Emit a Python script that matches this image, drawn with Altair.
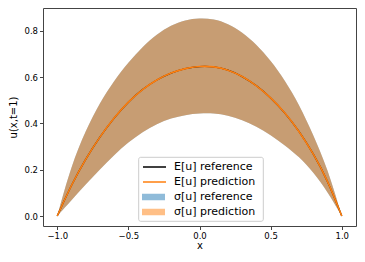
import altair as alt
import pandas as pd

# x positions
x_vals = [-1.0, -0.9, -0.8, -0.7, -0.6, -0.5, -0.4, -0.3, -0.2, -0.1,
          0.0, 0.1, 0.2, 0.3, 0.4, 0.5, 0.6, 0.7, 0.8, 0.9, 1.0]
# mean E[u]
mean_ref = [0.0, 0.136, 0.247, 0.343, 0.425, 0.494, 0.548, 0.589, 0.619, 0.638,
            0.647, 0.646, 0.632, 0.604, 0.564, 0.512, 0.447, 0.367, 0.27, 0.155, 0.0]
mean_pred = [0.0, 0.136, 0.247, 0.343, 0.425, 0.494, 0.548, 0.589, 0.619, 0.638,
             0.647, 0.646, 0.632, 0.604, 0.564, 0.512, 0.447, 0.367, 0.27, 0.155, 0.0]
# E[u] + sigma / E[u] - sigma
upper_ref = [0.0, 0.22, 0.37, 0.49, 0.585, 0.663, 0.731, 0.785, 0.824, 0.847,
             0.855, 0.851, 0.831, 0.794, 0.741, 0.672, 0.586, 0.482, 0.35, 0.205, 0.0]
lower_ref = [0.0, 0.068, 0.136, 0.202, 0.264, 0.319, 0.364, 0.398, 0.422, 0.437,
             0.443, 0.444, 0.434, 0.415, 0.387, 0.35, 0.306, 0.256, 0.19, 0.105, 0.0]
upper_pred = upper_ref
lower_pred = lower_ref

rows = []
for i, x in enumerate(x_vals):
    rows.append({"x": x, "series": "ref", "mean": mean_ref[i], "hi": upper_ref[i], "lo": lower_ref[i],
                 "line": "E[u] reference", "band": "σ[u] reference"})
    rows.append({"x": x, "series": "pred", "mean": mean_pred[i], "hi": upper_pred[i], "lo": lower_pred[i],
                 "line": "E[u] prediction", "band": "σ[u] prediction"})
df = pd.DataFrame(rows)

FONT = "DejaVu Sans"
xs = alt.Scale(domain=[-1.1, 1.1], nice=False, zero=False)
ys = alt.Scale(domain=[-0.043, 0.898], nice=False, zero=False)
xax = alt.Axis(values=[-1, -0.5, 0, 0.5, 1], format=".1f", title="x")
yax = alt.Axis(values=[0, 0.2, 0.4, 0.6, 0.8], format=".1f", title="u(x,t=1)")

band_scale = alt.Scale(domain=["σ[u] reference", "σ[u] prediction"], range=["#1f77b4", "#ff7f0e"])
line_scale = alt.Scale(domain=["E[u] reference", "E[u] prediction"], range=["#000000", "#ff7f0e"])

band_legend = alt.Legend(
    title=None, orient="none", legendX=99, legendY=182.5, padding=0,
    symbolType="M-1,-0.29H1V0.29H-1Z", symbolSize=529, symbolStrokeWidth=0,
    symbolOpacity=0.5, labelOffset=9, clipHeight=13, rowPadding=2,
    labelFont=FONT, labelFontSize=11, labelColor="black", symbolOffset=0,
)
line_legend = alt.Legend(
    title=None, orient="none", legendX=99, legendY=152.5, padding=0,
    symbolType="stroke", symbolSize=529, symbolStrokeWidth=1.5,
    labelOffset=7, clipHeight=13, rowPadding=2,
    labelFont=FONT, labelFontSize=11, labelColor="black",
)

base = alt.Chart(df)

def band(series):
    return base.transform_filter(alt.datum.series == series).mark_area(
        opacity=0.5, interpolate="basis"
    ).encode(
        x=alt.X("x:Q", scale=xs, axis=xax),
        y=alt.Y("hi:Q", scale=ys, axis=yax),
        y2="lo:Q",
        fill=alt.Fill("band:N", scale=band_scale, legend=band_legend),
    )

def line(series, width):
    return base.transform_filter(alt.datum.series == series).mark_line(
        strokeWidth=width, interpolate="basis"
    ).encode(
        x=alt.X("x:Q", scale=xs, axis=xax),
        y=alt.Y("mean:Q", scale=ys, axis=yax),
        stroke=alt.Stroke("line:N", scale=line_scale, legend=line_legend),
    )

frame = alt.Chart(alt.Data(values=[{}])).mark_rect(
    fill="white", fillOpacity=0.8, stroke="#cccccc", strokeWidth=1, cornerRadius=2
).encode(
    x=alt.value(95.7), x2=alt.value(220.3), y=alt.value(149.3), y2=alt.value(213.3)
)

chart = alt.layer(band("ref"), band("pred"), line("ref", 1.3), line("pred", 1.6), frame).properties(
    width=313, height=218,
    padding={"left": 35, "top": 0, "right": 1, "bottom": 23},
    autosize=alt.AutoSizeParams(type="none"),
).configure_view(
    stroke="#444444", strokeWidth=1
).configure_axis(
    grid=False, domain=False, tickColor="#444444", tickSize=3.5, tickWidth=1,
    labelFont=FONT, labelFontSize=8.5, labelColor="black", labelPadding=2,
    titleFont=FONT, titleFontSize=10, titleFontWeight="normal", titleColor="black",
).configure_axisX(titlePadding=0).configure_axisY(titlePadding=5)

chart.save("out.html", embed_options={"renderer": "svg", "actions": False})
